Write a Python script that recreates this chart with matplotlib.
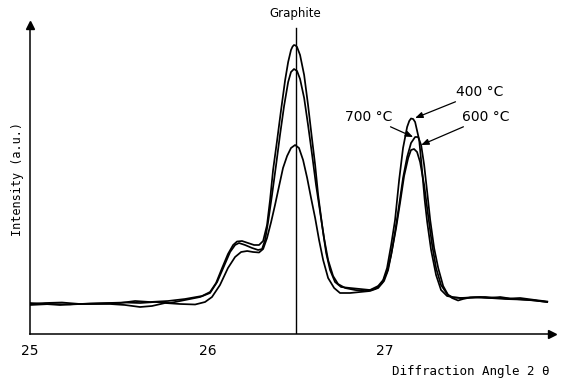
import matplotlib
matplotlib.use("Agg")
import matplotlib.pyplot as plt

# ---- data (2theta in degrees, intensity in arbitrary units) ----
angle_400 = [25.000, 25.085, 25.180, 25.282, 25.394, 25.507, 25.592, 25.676, 25.777, 25.873,
             25.969, 26.014, 26.048, 26.082, 26.115, 26.144, 26.166, 26.194, 26.228, 26.262,
             26.290, 26.313, 26.335, 26.352, 26.369, 26.392, 26.414, 26.437, 26.454, 26.470,
             26.479, 26.487, 26.496, 26.504, 26.521, 26.544, 26.566, 26.589, 26.606, 26.623,
             26.645, 26.668, 26.690, 26.718, 26.752, 26.803, 26.859, 26.915, 26.961, 26.989,
             27.011, 27.034, 27.056, 27.079, 27.101, 27.124, 27.136, 27.146, 27.158, 27.169,
             27.192, 27.208, 27.223, 27.237, 27.259, 27.287, 27.315, 27.349, 27.377, 27.423,
             27.479, 27.563, 27.648, 27.732, 27.817, 27.913]
inten_400 = [30, 31, 31.5, 30, 30.5, 31, 33, 32, 33, 35,
             38, 42, 51, 66, 80, 89, 92.5, 93, 91, 89,
             89, 93, 109, 134, 164, 194, 224, 254, 272, 284,
             287.5, 289, 288.5, 287, 279, 259, 229, 194, 169, 139,
             109, 81, 64, 52, 47, 46, 45, 44, 48, 54,
             66, 89, 114, 154, 186, 207, 213, 215.5, 215, 212,
             194, 164, 134, 112, 84, 59, 44, 38, 37, 36,
             36.5, 37, 36, 35, 34, 32]

angle_600 = [25.000, 25.113, 25.225, 25.338, 25.439, 25.535, 25.620, 25.704, 25.789, 25.873,
             25.958, 26.014, 26.054, 26.093, 26.127, 26.155, 26.177, 26.211, 26.251, 26.285,
             26.307, 26.324, 26.341, 26.363, 26.386, 26.408, 26.431, 26.454, 26.470, 26.487,
             26.504, 26.521, 26.544, 26.566, 26.589, 26.611, 26.634, 26.656, 26.679, 26.707,
             26.735, 26.775, 26.831, 26.887, 26.944, 26.983, 27.011, 27.034, 27.056, 27.079,
             27.101, 27.124, 27.146, 27.169, 27.186, 27.203, 27.220, 27.237, 27.254, 27.276,
             27.299, 27.327, 27.355, 27.383, 27.434, 27.507, 27.592, 27.676, 27.761, 27.845,
             27.913]
inten_600 = [29, 30, 29.5, 30.5, 31, 31.5, 31, 32, 31, 34,
             37, 41, 52, 68, 82, 89, 91, 89, 86, 84,
             85, 94, 112, 139, 169, 199, 228, 252, 262, 265,
             263, 255, 236, 209, 179, 149, 122, 96, 74, 58,
             50, 46, 44, 43, 45, 51, 62, 79, 102, 129,
             156, 177, 191, 197, 197, 189, 169, 142, 114, 86,
             66, 48, 39, 36.5, 36, 36.5, 36, 35, 34.5, 33.5,
             32]

angle_700 = [25.000, 25.085, 25.169, 25.254, 25.366, 25.451, 25.535, 25.620, 25.687, 25.761,
             25.845, 25.930, 25.986, 26.025, 26.070, 26.115, 26.155, 26.189, 26.223, 26.256,
             26.290, 26.313, 26.335, 26.358, 26.380, 26.403, 26.425, 26.448, 26.470, 26.493,
             26.515, 26.538, 26.561, 26.583, 26.606, 26.628, 26.651, 26.679, 26.713, 26.746,
             26.803, 26.859, 26.915, 26.961, 26.994, 27.017, 27.039, 27.062, 27.085, 27.107,
             27.130, 27.146, 27.163, 27.180, 27.197, 27.220, 27.242, 27.265, 27.287, 27.315,
             27.349, 27.377, 27.411, 27.439, 27.479, 27.535, 27.592, 27.648, 27.704, 27.761,
             27.845, 27.913]
inten_700 = [31, 30, 29, 30, 30, 30, 29, 27, 28, 31,
             30, 29.5, 32, 37, 49, 66, 77, 82, 83, 82,
             81.5, 85, 96, 112, 129, 148, 166, 178, 186, 189,
             186, 174, 156, 136, 116, 94, 74, 56, 46, 41,
             41, 42, 43, 46, 53, 64, 84, 106, 132, 158,
             176, 184, 185, 182, 172, 149, 119, 89, 66, 49,
             40, 36, 33.5, 35, 36.5, 37, 36, 37, 35.5, 36,
             34, 32.5]

xticks = [25, 26, 27]
xtick_labels = ["25", "26", "27"]
graphite_angle = 26.5

# ---- figure ----
fig = plt.figure(figsize=(5.64, 3.82), dpi=100)
ax = fig.add_axes([30 / 564, 48 / 382, 522 / 564, 309 / 382])
ax.set_xlim(25, 27.94)
ax.set_ylim(0, 309)

for a, i in [(angle_400, inten_400), (angle_600, inten_600), (angle_700, inten_700)]:
    ax.plot(a, i, color="black", lw=1.25, solid_joinstyle="round")

# graphite reference line
ax.plot([graphite_angle, graphite_angle], [0, 306], color="black", lw=1.0)
ax.text(graphite_angle - 0.005, 314, "Graphite", ha="center", va="bottom", fontsize=8.5,
        clip_on=False)

# axes styling
for s in ["top", "right"]:
    ax.spines[s].set_visible(False)
ax.spines["left"].set_linewidth(1.1)
ax.spines["bottom"].set_linewidth(1.1)
ax.plot(1, 0, ">", color="black", ms=6, transform=ax.transAxes, clip_on=False)
ax.plot(0, 1, "^", color="black", ms=6, transform=ax.transAxes, clip_on=False)
ax.set_xticks(xticks)
ax.set_xticklabels(xtick_labels, fontsize=10)
ax.set_yticks([])
ax.tick_params(axis="x", length=0, pad=7)

ax.set_ylabel("Intensity (a.u.)", family="DejaVu Sans Mono", fontsize=8.5, labelpad=4)
fig.text(550 / 564, 1 - 372 / 382, "Diffraction Angle 2\u2009\u03b8", family="DejaVu Sans Mono",
         fontsize=9, ha="right", va="center")

# labels with arrows
arrow = dict(arrowstyle="-|>,head_length=0.45,head_width=0.18", color="black", lw=0.9,
             shrinkA=0, shrinkB=0)
ax.annotate("400 °C", xy=(27.169, 216), xytext=(27.40, 242), fontsize=10,
            ha="left", va="center", arrowprops=arrow)
ax.annotate("600 °C", xy=(27.203, 189), xytext=(27.435, 217), fontsize=10,
            ha="left", va="center", arrowprops=arrow)
ax.annotate("700 °C", xy=(27.158, 197), xytext=(26.775, 217), fontsize=10,
            ha="left", va="center", arrowprops=arrow)

fig.savefig("out.png", dpi=100)
